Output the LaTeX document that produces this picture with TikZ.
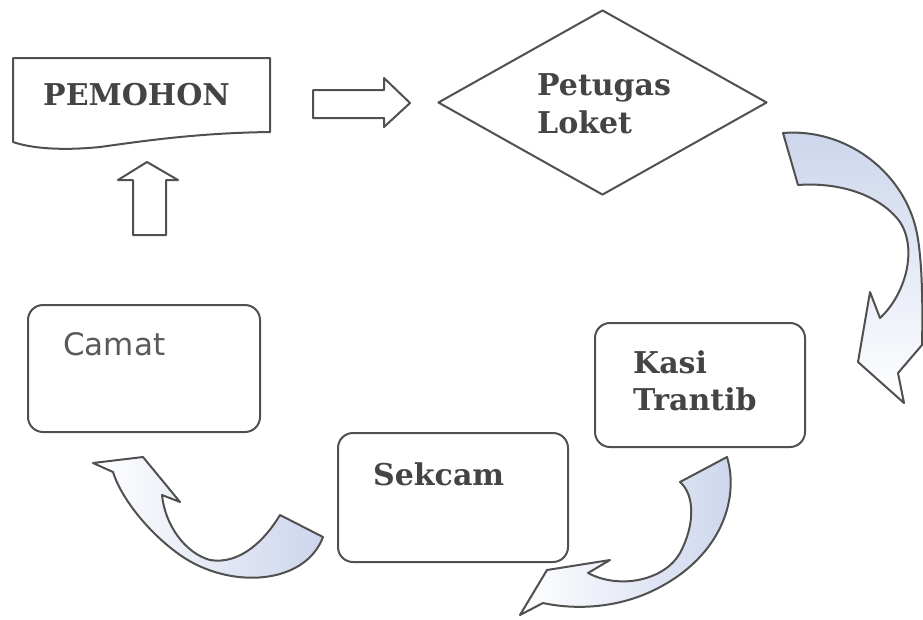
\documentclass[tikz,border=0pt]{standalone}
\usepackage{fontspec}
\setmainfont{DejaVu Serif}
\newfontfamily\camatfont{DejaVu Sans}
\usetikzlibrary{shapes.geometric}
\definecolor{ln}{HTML}{505050}
\definecolor{bl}{HTML}{CCD5EC}
\definecolor{tx}{HTML}{444444}
\definecolor{tx2}{HTML}{5A5A5A}
\begin{document}
\begin{tikzpicture}[x=1pt,y=-1pt,line join=round,
  shapeline/.style={draw=ln,line width=2pt},
  rbox/.style={shapeline,rounded corners=15pt,inner sep=0pt},
  lbl/.style={text=tx,font=\fontsize{30}{39}\selectfont\bfseries,anchor=base west,inner sep=0pt}]
\useasboundingbox[fill=white] (0,0) rectangle (923,619);

% PEMOHON document shape
\draw[shapeline] (13,58) -- (270,58) -- (270,132)
  .. controls (200,133) and (150,140) .. (100,147)
  .. controls (60,151) and (30,148) .. (13,142) -- cycle;
\node[lbl] (pemohon) at (43,105) {PEMOHON};

% right block arrow
\draw[shapeline] (313,90) -- (384,90) -- (384,78) -- (410,103) -- (384,127) -- (384,118) -- (313,118) -- cycle;

% up block arrow
\draw[shapeline] (133,235) -- (133,180) -- (118,180) -- (147,162) -- (178,180) -- (166,180) -- (166,235) -- cycle;

% diamond
\node[shapeline,diamond,minimum width=329pt,minimum height=185pt,inner sep=0pt] (loketbox) at (602.5,102.5) {};
\node[lbl] (petugas) at (537,95) {Petugas};
\node[lbl] (loket) at (537,133) {Loket};

% rounded boxes
\node[rbox,minimum width=232pt,minimum height=127pt] (camatbox) at (144,368.5) {};
\node[rbox,minimum width=210pt,minimum height=124pt] (kasibox) at (700,385) {};
\node[rbox,minimum width=230pt,minimum height=129pt] (sekcambox) at (453,497.5) {};
\node[lbl,text=tx2,font=\camatfont\fontsize{31}{39}\selectfont] (camat) at (63,355) {Camat};
\node[lbl] (kasi) at (633,373) {Kasi};
\node[lbl] (trantib) at (633,410) {Trantib};
\node[lbl] (sekcam) at (373,485) {Sekcam};

% curved arrow top right
\draw[shapeline,top color=bl,bottom color=white]
  (783,133) .. controls (845,128) and (900,170) .. (915,225)
  .. controls (922,250) and (923,300) .. (922,345)
  -- (898,373) -- (904,403) -- (858,362) -- (870,292) -- (880,318)
  .. controls (905,295) and (918,250) .. (900,222)
  .. controls (880,195) and (840,182) .. (798,185) -- cycle;

% curved arrow bottom right
\draw[shapeline,left color=white,right color=bl]
  (727,457) .. controls (740,500) and (720,560) .. (650,592)
  .. controls (615,608) and (575,610) .. (543,603)
  -- (520,615) -- (547,570) -- (610,560) -- (588,573)
  .. controls (620,590) and (665,580) .. (680,553)
  .. controls (695,525) and (695,495) .. (680,482) -- cycle;

% curved arrow bottom left
\draw[shapeline,left color=white,right color=bl]
  (280,515) -- (323,537) .. controls (305,585) and (230,590) .. (180,555)
  .. controls (145,530) and (120,495) .. (113,472)
  -- (93,463) -- (143,457) -- (180,502) -- (162,495)
  .. controls (165,525) and (185,553) .. (210,560)
  .. controls (240,565) and (265,540) .. (280,515) -- cycle;
\end{tikzpicture}
\end{document}
